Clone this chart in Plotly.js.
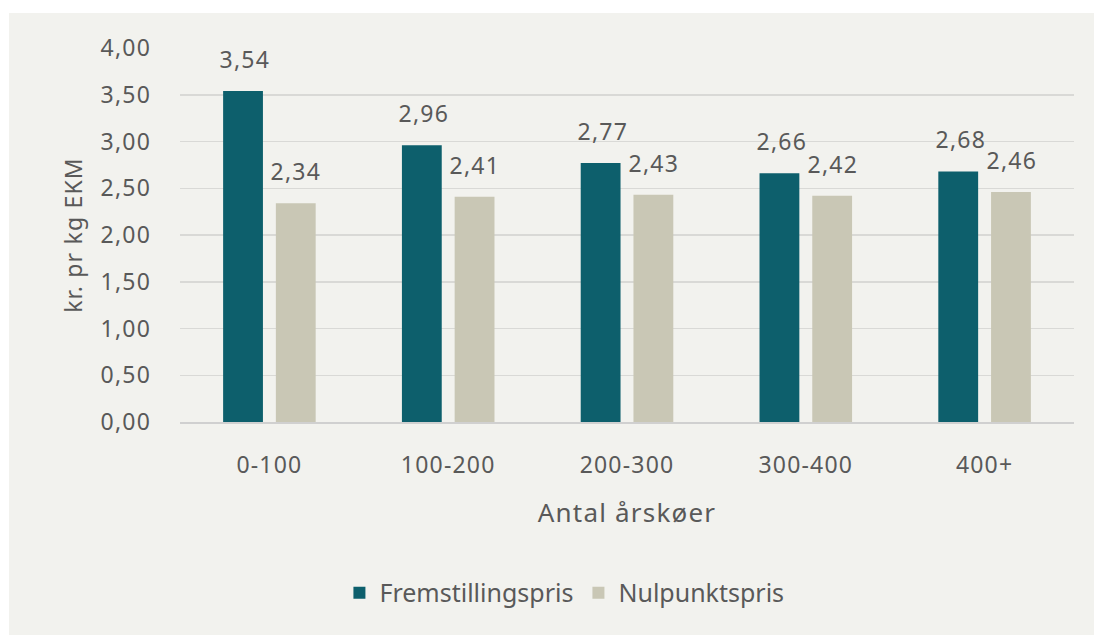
<!DOCTYPE html>
<html>
<head>
<meta charset="utf-8">
<script src="https://cdn.plot.ly/plotly-3.0.1.min.js"></script>
<style>
  html, body { margin: 0; padding: 0; background: #ffffff; width: 1094px; height: 635px; overflow: hidden; }
  #chart { position: absolute; left: 9px; top: 13px; width: 1085px; height: 622px; }
  #chart text { letter-spacing: 1.2px; }
  #chart text.legendtext { letter-spacing: 0; }
</style>
</head>
<body>
<div id="chart"></div>
<script>
const categories = ["0-100", "100-200", "200-300", "300-400", "400+"];
const fremstillingspris = [3.54, 2.96, 2.77, 2.66, 2.68];
const nulpunktspris = [2.34, 2.41, 2.43, 2.42, 2.46];
const seriesNames = ["Fremstillingspris", "Nulpunktspris"];
const yTickVals = [0, 0.5, 1, 1.5, 2, 2.5, 3, 3.5, 4];

const fmt = v => v.toFixed(2).replace('.', ',');
const FONT = "Noto Sans, Open Sans, DejaVu Sans, sans-serif";
const TXT = "#595959";

const traces = [
  { type: "bar", name: seriesNames[0], x: categories, y: fremstillingspris,
    marker: { color: "#0d5f6c" }, hoverinfo: "none" },
  { type: "bar", name: seriesNames[1], x: categories, y: nulpunktspris,
    marker: { color: "#c9c7b5" }, hoverinfo: "none" }
];

const annotations = [];
categories.forEach((c, i) => {
  annotations.push({ x: c, y: fremstillingspris[i], text: fmt(fremstillingspris[i]),
    showarrow: false, xshift: -24, yshift: 32, yanchor: "middle",
    font: { family: FONT, size: 23, color: TXT } });
  annotations.push({ x: c, y: nulpunktspris[i], text: fmt(nulpunktspris[i]),
    showarrow: false, xshift: 27, yshift: 32, yanchor: "middle",
    font: { family: FONT, size: 23, color: TXT } });
});

const layout = {
  width: 1085, height: 622,
  margin: { l: 171, r: 20, t: 35, b: 213 },
  paper_bgcolor: "#f2f2ee",
  plot_bgcolor: "#f2f2ee",
  font: { family: FONT, size: 23, color: TXT },
  barmode: "group",
  bargap: 0.41,
  bargroupgap: 0.245,
  showlegend: true,
  legend: { orientation: "h", x: 0.43, xanchor: "center", y: -0.457, yanchor: "middle",
    font: { family: FONT, size: 25, color: TXT }, bgcolor: "rgba(0,0,0,0)", traceorder: "normal" },
  xaxis: {
    type: "category",
    showgrid: false,
    showline: true, linecolor: "#d0d0d0", linewidth: 1.5,
    ticks: "", ticklabelstandoff: 22,
    tickfont: { family: FONT, size: 23, color: TXT },
    title: { text: "Antal årskøer", standoff: 24, font: { family: FONT, size: 26, color: TXT } }
  },
  yaxis: {
    range: [0, 4],
    tickvals: yTickVals,
    ticktext: yTickVals.map(fmt),
    showgrid: true, gridcolor: "#d9d9d6", gridwidth: 1.5,
    zeroline: false, showline: false,
    ticks: "", ticklabelstandoff: 28,
    tickfont: { family: FONT, size: 23, color: TXT },
    title: { text: "kr. pr kg EKM", standoff: 16, font: { family: FONT, size: 23, color: TXT } }
  },
  annotations: annotations
};

Plotly.newPlot("chart", traces, layout, { displayModeBar: false, staticPlot: true });
</script>
</body>
</html>
